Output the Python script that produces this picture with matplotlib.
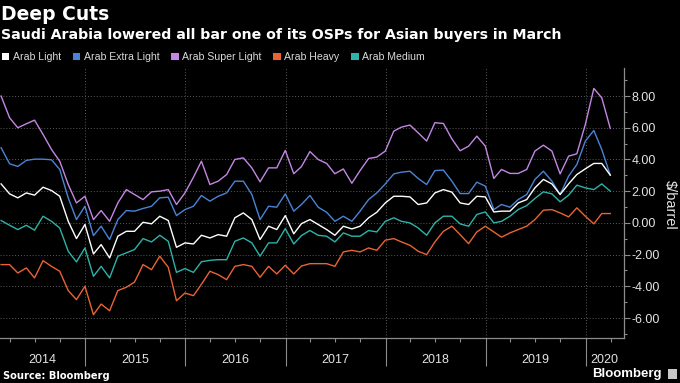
import pandas as pd
import matplotlib
matplotlib.use("Agg")
import matplotlib.pyplot as plt
import matplotlib.dates as mdates
import matplotlib.transforms as mtransforms
from matplotlib.patches import Patch, Rectangle

# monthly OSP differentials, Feb 2014 .. Mar 2020 ($/barrel vs Oman/Dubai)
dates = pd.date_range("2014-02-28", periods=74, freq="ME")

arab_light = [2.46, 1.83, 1.58, 1.89, 1.75, 2.25, 2.04, 1.68, 0.1, -0.99, -0.1, -1.96, -1.37,
              -2.21, -0.84, -0.53, -0.53, 0.04, -0.06, 0.42, 0.15, -1.54, -1.26, -1.33, -0.78,
              -0.95, -0.74, -0.84, 0.32, 0.63, 0.21, -1.05, -0.21, -0.42, 0.46, -0.69, -0.05,
              0.21, -0.1, -0.42, -0.78, -0.21, -0.38, -0.21, 0.32, 0.67, 1.26, 1.68, 1.68,
              1.64, 1.16, 1.26, 1.89, 2.1, 1.94, 1.26, 1.16, 1.68, 1.64, 0.69, 0.74,
              0.74, 1.26, 1.47, 2.21, 2.74, 2.46, 1.79, 2.46, 3.05, 3.41, 3.75, 3.75, 3.01]

arab_extra_light = [4.74, 3.73, 3.56, 3.94, 4.02, 4.02, 3.98, 3.37, 1.58, 0.21, 1.05, -0.8, -0.21,
                    -1.05, 0.21, 0.78, 0.74, 0.91, 1.05, 1.58, 1.62, 0.46, 0.84, 1.05, 1.73,
                    1.37, 1.68, 1.89, 2.63, 2.63, 1.79, 0.21, 1.05, 0.99, 1.83, 0.74, 1.16,
                    1.73, 0.99, 0.67, 0.1, 0.42, 0.1, 0.74, 1.47, 1.89, 2.46, 3.09, 3.2,
                    3.26, 2.8, 2.42, 3.3, 3.33, 2.63, 1.85, 1.85, 2.57, 2.32, 0.84, 1.16,
                    0.99, 1.47, 1.79, 2.74, 3.26, 2.63, 1.79, 2.95, 3.68, 5.16, 5.83, 4.63, 3.01]

arab_super_light = [8.0, 6.63, 6.0, 6.25, 6.48, 5.58, 4.63, 3.89, 2.42, 1.26, 1.68, 0.21, 0.78,
                    0.1, 1.26, 2.1, 1.79, 1.47, 1.96, 2.0, 2.1, 1.16, 1.89, 2.88, 3.89,
                    2.42, 2.63, 3.05, 4.0, 4.1, 3.47, 2.59, 3.47, 3.47, 4.57, 3.1, 3.55,
                    4.5, 4.0, 3.75, 3.1, 3.4, 2.5, 3.3, 4.06, 4.15, 4.53, 5.79, 6.04,
                    6.17, 5.68, 5.16, 6.32, 6.27, 5.3, 4.55, 4.84, 5.47, 4.84, 2.8, 3.37,
                    3.12, 3.12, 3.37, 4.53, 4.9, 4.53, 3.09, 4.21, 4.36, 6.21, 8.48, 7.89, 5.96]

arab_heavy = [-2.63, -2.63, -3.16, -2.84, -3.47, -2.38, -2.74, -3.05, -4.27, -4.84, -4.0, -5.79, -5.12,
              -5.54, -4.27, -4.06, -3.73, -2.63, -2.95, -2.1, -2.8, -4.91, -4.42, -4.59, -3.87,
              -3.05, -3.26, -3.58, -2.74, -2.63, -2.74, -3.43, -2.74, -3.22, -2.67, -3.22, -2.72,
              -2.57, -2.57, -2.57, -2.74, -1.83, -1.73, -1.83, -1.58, -1.73, -1.09, -0.99, -1.2,
              -1.41, -1.79, -2.0, -1.2, -0.53, -0.21, -0.74, -1.31, -0.57, -0.21, -0.57, -0.9,
              -0.63, -0.42, -0.21, 0.21, 0.8, 0.84, 0.63, 0.38, 0.95, 0.42, -0.06, 0.59, 0.59]

arab_medium = [0.15, -0.15, -0.42, -0.15, -0.46, 0.42, 0.1, -0.32, -1.79, -2.46, -1.58, -3.37, -2.74,
               -3.47, -2.1, -1.89, -1.68, -0.99, -1.2, -0.78, -1.16, -3.12, -2.88, -3.12, -2.45,
               -2.36, -2.32, -2.32, -1.16, -0.95, -1.26, -2.1, -1.26, -1.26, -0.36, -1.33, -0.8,
               -0.48, -0.78, -0.84, -1.2, -0.63, -0.84, -0.84, -0.48, -0.57, 0.1, 0.32, 0.1,
               0.0, -0.32, -0.78, 0.0, 0.42, 0.42, -0.06, -0.21, 0.53, 0.69, 0.0, 0.1,
               0.42, 0.84, 1.09, 1.54, 1.96, 1.83, 1.33, 1.75, 2.38, 2.21, 2.1, 2.46, 2.0]

names = ["Arab Light", "Arab Extra Light", "Arab Super Light", "Arab Heavy", "Arab Medium"]
colors = ["#ffffff", "#4a84d6", "#c487e4", "#ea6433", "#2db3a9"]
series = [arab_light, arab_extra_light, arab_super_light, arab_heavy, arab_medium]
years = [2014, 2015, 2016, 2017, 2018, 2019, 2020]

narrow = ["Liberation Sans", "DejaVu Sans"]
grey = "#8c8c8c"
txt = "#e3e3e3"

fig = plt.figure(figsize=(6.8, 3.83), dpi=100, facecolor="black")
ax = fig.add_axes([0.0, 0.1183, 0.9176, 0.7042], facecolor="black")

# draw back to front so white sits on top like the original
for idx in [3, 4, 2, 1, 0]:
    ax.plot(dates, series[idx], color=colors[idx], lw=1.0)

x0 = pd.Timestamp("2014-02-24")
x1 = pd.Timestamp("2020-05-20")
ax.set_xlim(x0, x1)
ax.set_ylim(-7.24, 9.77)

for s in ["left", "top"]:
    ax.spines[s].set_visible(False)
for s in ["bottom", "right"]:
    ax.spines[s].set_color(grey)
    ax.spines[s].set_linewidth(0.9)

ax.xaxis.set_major_locator(mdates.YearLocator())
ax.xaxis.set_minor_locator(mdates.MonthLocator(bymonth=[4, 7, 10]))
ax.xaxis.set_major_formatter(plt.NullFormatter())
ax.tick_params(axis="x", which="major", length=20.5, width=0.8, color=grey, direction="out")
ax.tick_params(axis="x", which="minor", length=3, width=0.8, color=grey, direction="out")

ax.yaxis.tick_right()
ax.yaxis.set_label_position("right")
ax.set_yticks(range(-6, 9, 2))
ax.set_yticks(range(-7, 10, 2), minor=True)
ax.set_yticklabels([f"{v:.2f}" for v in range(-6, 9, 2)])
ax.tick_params(axis="y", which="major", length=4, width=0.8, color=grey, pad=1.5,
               labelcolor=txt, labelsize=9)
ax.tick_params(axis="y", which="minor", length=2.5, width=0.8, color=grey)
for lab in ax.get_yticklabels():
    lab.set_family(narrow)
ax.set_ylabel(r"\$/barrel", rotation=270, color=txt, fontsize=10.5,
              family=narrow, va="center", ha="center")
ax.yaxis.set_label_coords(670 / 624, 0.493)

ax.grid(axis="both", which="major", color="#5a5a5a", linestyle=(0, (1, 2)), linewidth=0.7)

# year labels centred in the visible part of each year
trans = mtransforms.blended_transform_factory(ax.transData, ax.transAxes)
for y in years:
    a = max(pd.Timestamp(f"{y}-01-01"), x0)
    b = min(pd.Timestamp(f"{y + 1}-01-01"), x1)
    mid = a + (b - a) / 2
    ax.text(mid, -0.083, str(y), transform=trans, ha="center", va="center",
            color=txt, fontsize=9, family=narrow)

fig.text(0.002, 1 - 15 / 383, "Deep Cuts", color="white", fontsize=13.5,
         weight="bold", va="center", ha="left")
fig.text(0.002, 1 - 34.5 / 383, "Saudi Arabia lowered all bar one of its OSPs for Asian buyers in March",
         color="white", fontsize=10.2, weight="bold", va="center", ha="left")

handles = [Patch(facecolor=c, edgecolor="none") for c in colors]
leg = fig.legend(handles, names, loc="center left", bbox_to_anchor=(0.0, 1 - 57 / 383),
                 ncol=5, frameon=False, handlelength=0.7, handleheight=0.7,
                 handletextpad=0.35, columnspacing=1.1, borderaxespad=0, borderpad=0.2,
                 prop={"family": narrow, "size": 7.6})
for t in leg.get_texts():
    t.set_color("#d9d9d9")

fig.text(0.004, 1 - 376 / 383, "Source: Bloomberg", color="white", fontsize=7.1,
         weight="bold", va="center", ha="left")
fig.text(0.973, 1 - 374 / 383, "Bloomberg", color="white", fontsize=9.5,
         weight="bold", va="center", ha="right", family=narrow)
fig.patches.append(Rectangle((0.982, 1 - 379 / 383), 0.0135, 10 / 383, transform=fig.transFigure,
                             facecolor="#c8c8c8", edgecolor="none"))

fig.savefig("out.png", dpi=100, facecolor="black")
